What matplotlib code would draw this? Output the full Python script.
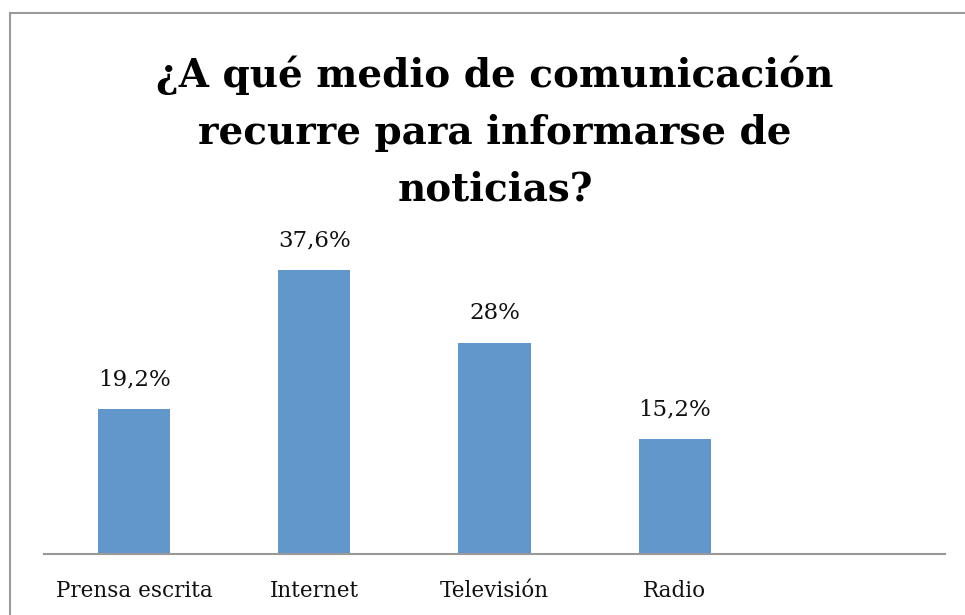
import matplotlib
matplotlib.use("Agg")
import matplotlib.pyplot as plt
from matplotlib.patches import Rectangle

categories = ["Prensa escrita", "Internet", "Televisión", "Radio", ""]
values = [19.2, 37.6, 28.0, 15.2, None]
value_labels = ["19,2%", "37,6%", "28%", "15,2%", ""]
title = "¿A qué medio de comunicación\nrecurre para informarse de\nnoticias?"

W, H = 965, 615
fig = plt.figure(figsize=(W / 100, H / 100), dpi=100)
fig.patch.set_facecolor("white")

# outer chart border (right/bottom run off the image)
fig.patches.append(Rectangle((10 / W, -0.1), 1.2, (H - 13) / H + 0.1,
                             transform=fig.transFigure, fill=False,
                             edgecolor="#9a9a9a", linewidth=1.5))

ax_left, ax_right = 44 / W, 945 / W
ax_bottom, ax_top = (H - 554) / H, (H - 220) / H
ax = fig.add_axes([ax_left, ax_bottom, ax_right - ax_left, ax_top - ax_bottom])

ymax = (554 - 220) / 7.55
xs = list(range(len(categories)))
bar_x = [x for x, v in zip(xs, values) if v is not None]
bar_v = [v for v in values if v is not None]
ax.bar(bar_x, bar_v, width=0.4, color="#6297CB", zorder=2)
for x, v, lab in zip(xs, values, value_labels):
    if v is not None:
        ax.text(x, v + 2.5, lab, ha="center", va="bottom",
                fontsize=16.5, family="DejaVu Serif", color="#111111")

ax.set_xlim(-0.5, len(categories) - 0.5)
ax.set_ylim(0, ymax)
ax.set_xticks(xs)
ax.set_xticklabels(categories, fontsize=15.5, family="DejaVu Serif", color="#111111")
ax.tick_params(axis="x", length=0, pad=19)
ax.set_yticks([])
for s in ["top", "right", "left"]:
    ax.spines[s].set_visible(False)
ax.spines["bottom"].set_color("#999999")
ax.spines["bottom"].set_linewidth(1.5)

fig.text(495 / W, 1 - 132 / H, title, ha="center", va="center",
         fontsize=28, fontweight="bold", family="DejaVu Serif",
         linespacing=1.62, color="#000000")

fig.savefig("out.png", dpi=100, facecolor="white")
